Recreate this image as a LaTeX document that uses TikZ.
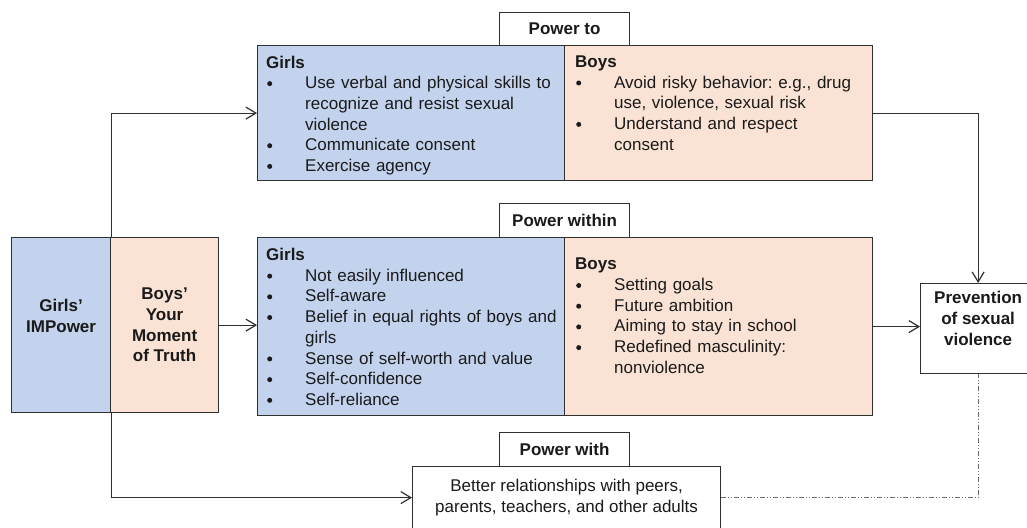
\documentclass[tikz,border=0pt]{standalone}
\usepackage{fontspec}
\setmainfont{Liberation Sans}
\usetikzlibrary{arrows.meta,positioning}
\definecolor{girlsfill}{HTML}{C3D3EE}
\definecolor{boysfill}{HTML}{FAE3D5}
\definecolor{frame}{HTML}{303030}
\definecolor{ink}{HTML}{1A1A1A}
\definecolor{weakline}{HTML}{6A6A6A}
\frenchspacing
\newlength{\bulind}\setlength{\bulind}{39pt}
\newcommand{\bul}[1]{\par\hangindent=\bulind\hangafter=1\noindent
  \makebox[\bulind][l]{\hspace{1pt}\tikz[baseline]\fill[ink] (2.6pt,.3em) circle (2.5pt);}#1\par}
\tikzset{
  % ---- boxes -----------------------------------------------------
  panel/.style   = {rectangle, draw=frame, line width=1.2pt,
                    inner sep=0pt, anchor=north west},
  gpanel/.style  = {panel, fill=girlsfill},
  bpanel/.style  = {panel, fill=boysfill},
  wpanel/.style  = {panel, fill=white},
  % ---- texts -----------------------------------------------------
  body/.style    = {font=\fontsize{17}{20.7}\selectfont, text=ink,
                    inner sep=0pt},
  list/.style    = {body, anchor=north west, align=left, text width=#1},
  head/.style    = {body, font=\fontsize{17}{20.7}\selectfont\bfseries,
                    align=center},
  % ---- connectors ------------------------------------------------
  flow/.style    = {draw=frame, line width=1.2pt,
                    -{Straight Barb[length=10pt, width=12pt]}},
  weak/.style    = {draw=weakline, line width=.7pt,
                    dash pattern=on 5pt off 2pt on 1pt off 2pt on 1pt off 2pt},
}

\begin{document}
\begin{tikzpicture}[x=1pt, y=-1pt]
  \useasboundingbox (0,0) rectangle (1027,527);
  % programmes
  \node[gpanel, minimum width=99pt, minimum height=175pt] (impower) at (11,237) {};
  \node[bpanel, minimum width=108pt, minimum height=175pt] (ymot) at (110,237) {};
  \node[head] (impowerT) at ([yshift=9pt]impower.center) {Girls’\\IMPower};
  \node[head] (ymotT) at (ymot.center) {Boys’\\Your\\Moment\\of Truth};
  % power to
  \node[gpanel, minimum width=307pt, minimum height=135pt] (toG) at (257,45) {};
  \node[bpanel, minimum width=308pt, minimum height=135pt] (toB) at (564,45) {};
  \node[wpanel, minimum width=130pt, minimum height=33pt] (powto) at (499,12) {};
  \node[head] (powtoT) at (powto.center) {Power to};
  \node[list=300pt] (toGT) at ([shift={(9pt,-10.5pt)}]toG.north west)
    {\textbf{Girls}\bul{Use verbal and physical skills to\newline recognize and resist sexual\newline violence}%
     \bul{Communicate consent}\bul{Exercise agency}};
  \node[list=300pt] (toBT) at ([shift={(11pt,-10.5pt)}]toB.north west)
    {\textbf{Boys}\bul{Avoid risky behavior: e.g., drug\newline use, violence, sexual risk}%
     \bul{Understand and respect\newline consent}};
  % power within
  \node[gpanel, minimum width=307pt, minimum height=178pt] (inG) at (257,237) {};
  \node[bpanel, minimum width=308pt, minimum height=178pt] (inB) at (564,237) {};
  \node[wpanel, minimum width=130pt, minimum height=34pt] (powin) at (499,203) {};
  \node[head] (powinT) at (powin.center) {Power within};
  \node[list=300pt] (inGT) at ([shift={(9pt,-11pt)}]inG.north west)
    {\textbf{Girls}\bul{Not easily influenced}\bul{Self-aware}%
     \bul{Belief in equal rights of boys and\newline girls}%
     \bul{Sense of self-worth and value}\bul{Self-confidence}\bul{Self-reliance}};
  \node[list=300pt] (inBT) at ([shift={(11pt,-21pt)}]inB.north west)
    {\textbf{Boys}\bul{Setting goals}\bul{Future ambition}\bul{Aiming to stay in school}%
     \bul{Redefined masculinity:\newline nonviolence}};
  % power with
  \node[wpanel, minimum width=308pt, minimum height=62pt] (rel) at (412,466) {};
  \node[wpanel, minimum width=130pt, minimum height=34.5pt] (powwith) at (499,431.5) {};
  \node[head] (powwithT) at (powwith.center) {Power with};
  \node[body, align=center] (relT) at (rel.center)
    {Better relationships with peers,\\parents, teachers, and other adults};
  % outcome
  \node[wpanel, minimum width=115pt, minimum height=90pt] (prev) at (920,283) {};
  \node[head] (prevT) at ([yshift=10pt]prev.center) {Prevention\\of sexual\\violence};

  \draw[flow] (impower.north east) |- (toG.west);
  \draw[flow] (impower.south east) |- (rel.west);
  \draw[flow] (ymot.east) -- (inG.west |- ymot.east);
  \draw[flow] (toB.east) -| (prev.north);
  \draw[flow] (inB.east) -- (prev.west |- inB.east);
  \draw[weak] (rel.east) -| (prev.south);
\end{tikzpicture}
\end{document}
